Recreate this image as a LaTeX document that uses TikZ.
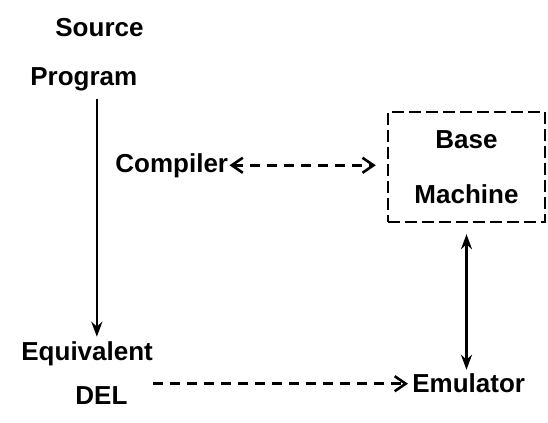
\documentclass[tikz,border=0pt]{standalone}
\usepackage{fontspec}
\setmainfont{Liberation Sans}
\usetikzlibrary{arrows.meta,positioning}

\begin{document}
\begin{tikzpicture}[x=0.5pt,y=-0.5pt,>=Stealth,
  font=\fontsize{13}{15}\selectfont\bfseries,
  lbl/.style={inner sep=0pt,anchor=base west},
  solidarrow/.style={line width=1.3pt,{Stealth[length=7.5pt,width=5.5pt]}-{Stealth[length=7.5pt,width=5.5pt]}},
  downarrow/.style={line width=1.3pt,-{Stealth[length=7.5pt,width=5.5pt]}},
  dline/.style={line width=1.3pt,dash pattern=on 5pt off 3.5pt},
  barb/.tip={Straight Barb[length=5.5pt,width=7.5pt,line width=1.3pt]}]
\useasboundingbox (0,0) rectangle (548,423);
\node[lbl] (src) at (55,37) {Source};
\node[lbl] (prog) at (30,85) {Program};
\node[lbl] (comp) at (115,172) {Compiler};
\node[lbl] (equ) at (21,360) {Equivalent};
\node[lbl] (del) at (75,405) {DEL};
\node[lbl] (emu) at (412,393) {Emulator};
\node[draw,line width=1.2pt,dash pattern=on 6pt off 2.5pt,minimum width=78.5pt,minimum height=55pt,
  align=center,font=\fontsize{13}{27.5}\selectfont\bfseries] (mach) at (466.5,167) {Base\\Machine};
\coordinate (pa) at ([xshift=6.5pt]prog.south);
\draw[downarrow,shorten <=4pt,shorten >=2pt] (pa) -- (pa |- equ.north);
\draw[dline,barb-barb,shorten >=5.5pt,shorten <=0.5pt] (comp.east) -- (comp.east -| mach.west);
\draw[solidarrow,shorten <=5.5pt,shorten >=2pt] (mach.south) -- (mach.south |- emu.north);
\draw[dline,-barb,shorten >=2pt] (equ.east |- emu.west) -- (emu.west);
\end{tikzpicture}
\end{document}
